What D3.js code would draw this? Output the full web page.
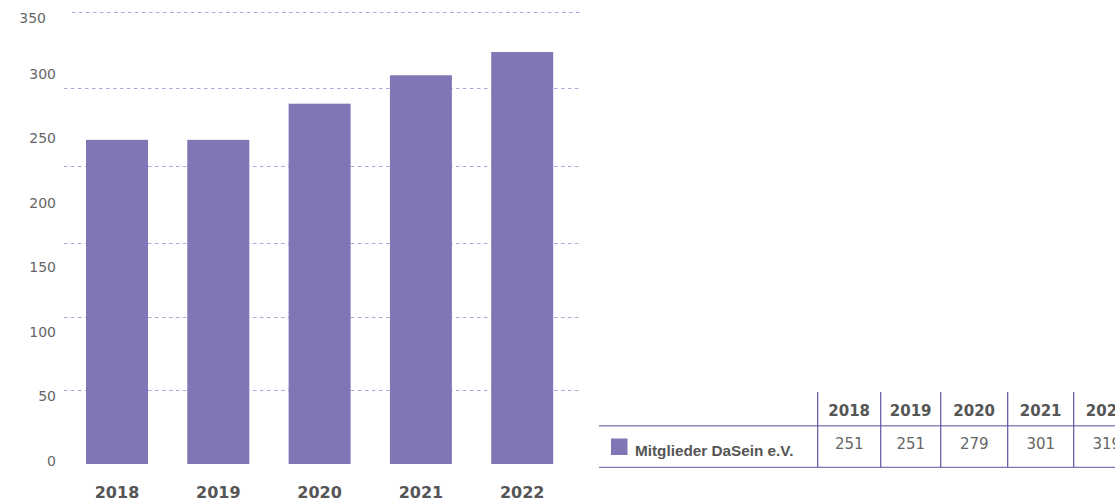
<!DOCTYPE html>
<html>
<head>
<meta charset="utf-8">
<script src="https://cdn.jsdelivr.net/npm/d3@7"></script>
<style>
  body { margin: 0; background: #fff; }
  svg { display: block; }
  .axis text { font-family: "DejaVu Sans", sans-serif; }
  .y.axis text { font-size: 14px; fill: #666; }
  .x.axis text { font-size: 16px; font-weight: bold; fill: #555; }
  .grid line { stroke: #aca6d6; stroke-width: 1; stroke-dasharray: 3.5 3.5; }
  .bar { fill: #7f77b5; }
  .tbl text { font-family: "DejaVu Sans", sans-serif; font-size: 15px; }
  .tbl .head { font-weight: bold; fill: #555; }
  .tbl .val { fill: #666; }
  .tbl .legend-label { font-family: "Liberation Sans", Arial, sans-serif; font-size: 15.3px; font-weight: bold; fill: #555; }
</style>
</head>
<body>
<svg width="1115" height="501"></svg>
<script>
var svg = d3.select('svg');

// chart data
var years = ['2018', '2019', '2020', '2021', '2022'];
var members = [251, 251, 279, 301, 319];
var seriesName = 'Mitglieder DaSein e.V.';
var yTicks = [0, 50, 100, 150, 200, 250, 300, 350];
var gridValues = [57, 114, 171, 231, 291, 350];

var dataset = years.map(function(y, i) {
    return {year: y, value: members[i]};
});

// scales
var xScale = d3.scaleBand().domain(years)
    .range([66.35, 572.85])
    .paddingInner(0.388)
    .paddingOuter(0.194);
var yScale = d3.scaleLinear().domain([0, 350]).range([464, 12]);

// dashed grid
svg.append('g')
    .attr('class', 'grid')
    .selectAll('line')
    .data(gridValues)
    .enter()
    .append('line')
    .attr('x1', function(d) { return d === 350 ? 72 : 64; })
    .attr('x2', 580)
    .attr('y1', function(d) { return Math.round(yScale(d)) + 0.5; })
    .attr('y2', function(d) { return Math.round(yScale(d)) + 0.5; });

// bars
svg.selectAll('.bar')
    .data(dataset)
    .enter()
    .append('rect')
    .attr('class', 'bar')
    .attr('x', function(d) { return xScale(d.year); })
    .attr('width', xScale.bandwidth())
    .attr('y', function(d) { return yScale(d.value); })
    .attr('height', function(d) { return yScale(0) - yScale(d.value); });

// y axis labels
var yAxis = d3.axisLeft(yScale).tickValues(yTicks).tickSize(0).tickPadding(0);
var yG = svg.append('g')
    .attr('class', 'y axis')
    .attr('transform', 'translate(' + [56, -3] + ')')
    .call(yAxis);
yG.select('.domain').remove();
// top label sits lower and further left in the original
yG.selectAll('.tick')
    .filter(function(d) { return d === 350; })
    .attr('transform', 'translate(' + [-10, 22] + ')');

// x axis labels
var xAxis = d3.axisBottom(xScale).tickSize(0).tickPadding(23);
var xG = svg.append('g')
    .attr('class', 'x axis')
    .attr('transform', 'translate(' + [0, 464] + ')')
    .call(xAxis);
xG.select('.domain').remove();

// data table below the legend
var colWidths = [63, 60, 67, 66, 66];
var colEdges = [817.7];
colWidths.forEach(function(w, i) { colEdges.push(colEdges[i] + w); });

var tbl = svg.append('g').attr('class', 'tbl');

tbl.append('line')
    .attr('x1', 599).attr('x2', 1115)
    .attr('y1', 425.7).attr('y2', 425.7)
    .attr('stroke', '#8d87c2').attr('stroke-width', 1.5);
tbl.append('line')
    .attr('x1', 599).attr('x2', 1115)
    .attr('y1', 467.3).attr('y2', 467.3)
    .attr('stroke', '#7f77b5').attr('stroke-width', 1.3);

tbl.selectAll('.vline')
    .data(colEdges)
    .enter()
    .append('line')
    .attr('class', 'vline')
    .attr('x1', function(d) { return d; })
    .attr('x2', function(d) { return d; })
    .attr('y1', 392).attr('y2', 467.3)
    .attr('stroke', '#5d55a5').attr('stroke-width', 1.2);

tbl.selectAll('.head')
    .data(years)
    .enter()
    .append('text')
    .attr('class', 'head')
    .attr('text-anchor', 'middle')
    .attr('x', function(d, i) { return colEdges[i] + colWidths[i] / 2; })
    .attr('y', 415.5)
    .text(function(d) { return d; });

tbl.selectAll('.val')
    .data(members)
    .enter()
    .append('text')
    .attr('class', 'val')
    .attr('text-anchor', 'middle')
    .attr('x', function(d, i) { return colEdges[i] + colWidths[i] / 2; })
    .attr('y', 448.5)
    .text(function(d) { return d; });

tbl.append('rect')
    .attr('x', 611).attr('y', 438.5)
    .attr('width', 16.5).attr('height', 16.5)
    .attr('fill', '#7f77b5');
tbl.append('text')
    .attr('class', 'legend-label')
    .attr('x', 635)
    .attr('y', 455.5)
    .text(seriesName);
</script>
</body>
</html>
